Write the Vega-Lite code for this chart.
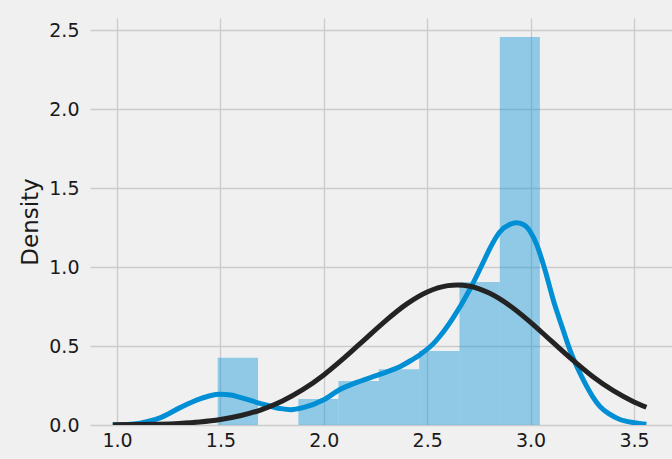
{
  "$schema": "https://vega.github.io/schema/vega-lite/v6.json",
  "autosize": "none",
  "width": 582,
  "height": 407,
  "padding": {"left": 90, "top": 18, "right": 0, "bottom": 34},
  "background": "#f0f0f0",
  "config": {
    "view": {"stroke": null},
    "font": "DejaVu Sans",
    "axis": {
      "grid": true,
      "gridColor": "#cbcbcb",
      "gridWidth": 1.4,
      "domain": false,
      "ticks": false,
      "labelFont": "DejaVu Sans",
      "labelFontSize": 19,
      "labelColor": "#1a1a1a",
      "titleFont": "DejaVu Sans",
      "titleFontSize": 23,
      "titleFontWeight": "normal",
      "titleColor": "#1a1a1a"
    }
  },
  "datasets": {
    "hist": [
      {"x0": 1.487, "x1": 1.682, "density": 0.426},
      {"x0": 1.682, "x1": 1.877, "density": 0.0},
      {"x0": 1.877, "x1": 2.071, "density": 0.164},
      {"x0": 2.071, "x1": 2.266, "density": 0.278},
      {"x0": 2.266, "x1": 2.461, "density": 0.353},
      {"x0": 2.461, "x1": 2.656, "density": 0.468},
      {"x0": 2.656, "x1": 2.851, "density": 0.905},
      {"x0": 2.851, "x1": 3.045, "density": 2.456}
    ],
    "kde": [
      {"x": 0.979, "density": 0.0},
      {"x": 1.05, "density": 0.003},
      {"x": 1.111, "density": 0.012},
      {"x": 1.208, "density": 0.045},
      {"x": 1.305, "density": 0.11},
      {"x": 1.401, "density": 0.165},
      {"x": 1.45, "density": 0.185},
      {"x": 1.498, "density": 0.194},
      {"x": 1.55, "density": 0.19},
      {"x": 1.595, "density": 0.175},
      {"x": 1.691, "density": 0.137},
      {"x": 1.788, "density": 0.105},
      {"x": 1.84, "density": 0.097},
      {"x": 1.9, "density": 0.11},
      {"x": 2.0, "density": 0.16},
      {"x": 2.078, "density": 0.225},
      {"x": 2.15, "density": 0.265},
      {"x": 2.27, "density": 0.32},
      {"x": 2.37, "density": 0.37},
      {"x": 2.417, "density": 0.405},
      {"x": 2.47, "density": 0.45},
      {"x": 2.53, "density": 0.515},
      {"x": 2.56, "density": 0.56},
      {"x": 2.626, "density": 0.68},
      {"x": 2.707, "density": 0.86},
      {"x": 2.771, "density": 1.03},
      {"x": 2.804, "density": 1.12},
      {"x": 2.85, "density": 1.22},
      {"x": 2.9, "density": 1.27},
      {"x": 2.933, "density": 1.28},
      {"x": 2.97, "density": 1.265},
      {"x": 3.0, "density": 1.22},
      {"x": 3.03, "density": 1.14},
      {"x": 3.07, "density": 0.98},
      {"x": 3.11, "density": 0.79},
      {"x": 3.15, "density": 0.63},
      {"x": 3.19, "density": 0.475},
      {"x": 3.255, "density": 0.285},
      {"x": 3.3, "density": 0.18},
      {"x": 3.336, "density": 0.116},
      {"x": 3.38, "density": 0.07},
      {"x": 3.432, "density": 0.035},
      {"x": 3.5, "density": 0.015},
      {"x": 3.56, "density": 0.005}
    ],
    "fit": [
      {"x": 0.98, "density": 0.0009},
      {"x": 1.1, "density": 0.0024},
      {"x": 1.2, "density": 0.0051},
      {"x": 1.3, "density": 0.0102},
      {"x": 1.4, "density": 0.0193},
      {"x": 1.5, "density": 0.0349},
      {"x": 1.6, "density": 0.0598},
      {"x": 1.7, "density": 0.0978},
      {"x": 1.8, "density": 0.152},
      {"x": 1.9, "density": 0.225},
      {"x": 2.0, "density": 0.317},
      {"x": 2.1, "density": 0.426},
      {"x": 2.2, "density": 0.544},
      {"x": 2.3, "density": 0.661},
      {"x": 2.4, "density": 0.765},
      {"x": 2.5, "density": 0.842},
      {"x": 2.6, "density": 0.882},
      {"x": 2.645, "density": 0.8865},
      {"x": 2.7, "density": 0.88},
      {"x": 2.8, "density": 0.835},
      {"x": 2.9, "density": 0.755},
      {"x": 3.0, "density": 0.65},
      {"x": 3.1, "density": 0.532},
      {"x": 3.2, "density": 0.415},
      {"x": 3.3, "density": 0.307},
      {"x": 3.4, "density": 0.217},
      {"x": 3.5, "density": 0.146},
      {"x": 3.56, "density": 0.112}
    ]
  },
  "layer": [
    {
      "data": {"name": "hist"},
      "mark": {"type": "bar", "color": "#008fd5", "opacity": 0.4, "clip": true},
      "encoding": {
        "x": {
          "field": "x0", "type": "quantitative",
          "scale": {"domain": [0.8694, 3.6838], "nice": false, "zero": false},
          "axis": {"values": [1.0, 1.5, 2.0, 2.5, 3.0, 3.5], "format": ".1f", "title": null, "labelPadding": 6}
        },
        "x2": {"field": "x1"},
        "y": {
          "field": "density", "type": "quantitative",
          "scale": {"domain": [0, 2.576], "nice": false},
          "axis": {"values": [0.0, 0.5, 1.0, 1.5, 2.0, 2.5], "format": ".1f", "title": "Density", "labelPadding": 11, "titlePadding": 6}
        },
        "y2": {"datum": 0}
      }
    },
    {
      "data": {"name": "kde"},
      "mark": {"type": "line", "color": "#008fd5", "strokeWidth": 5, "clip": true, "interpolate": "monotone"},
      "encoding": {
        "x": {"field": "x", "type": "quantitative"},
        "y": {"field": "density", "type": "quantitative"}
      }
    },
    {
      "data": {"name": "fit"},
      "mark": {"type": "line", "color": "#232323", "strokeWidth": 5, "clip": true, "interpolate": "monotone"},
      "encoding": {
        "x": {"field": "x", "type": "quantitative"},
        "y": {"field": "density", "type": "quantitative"}
      }
    }
  ]
}
